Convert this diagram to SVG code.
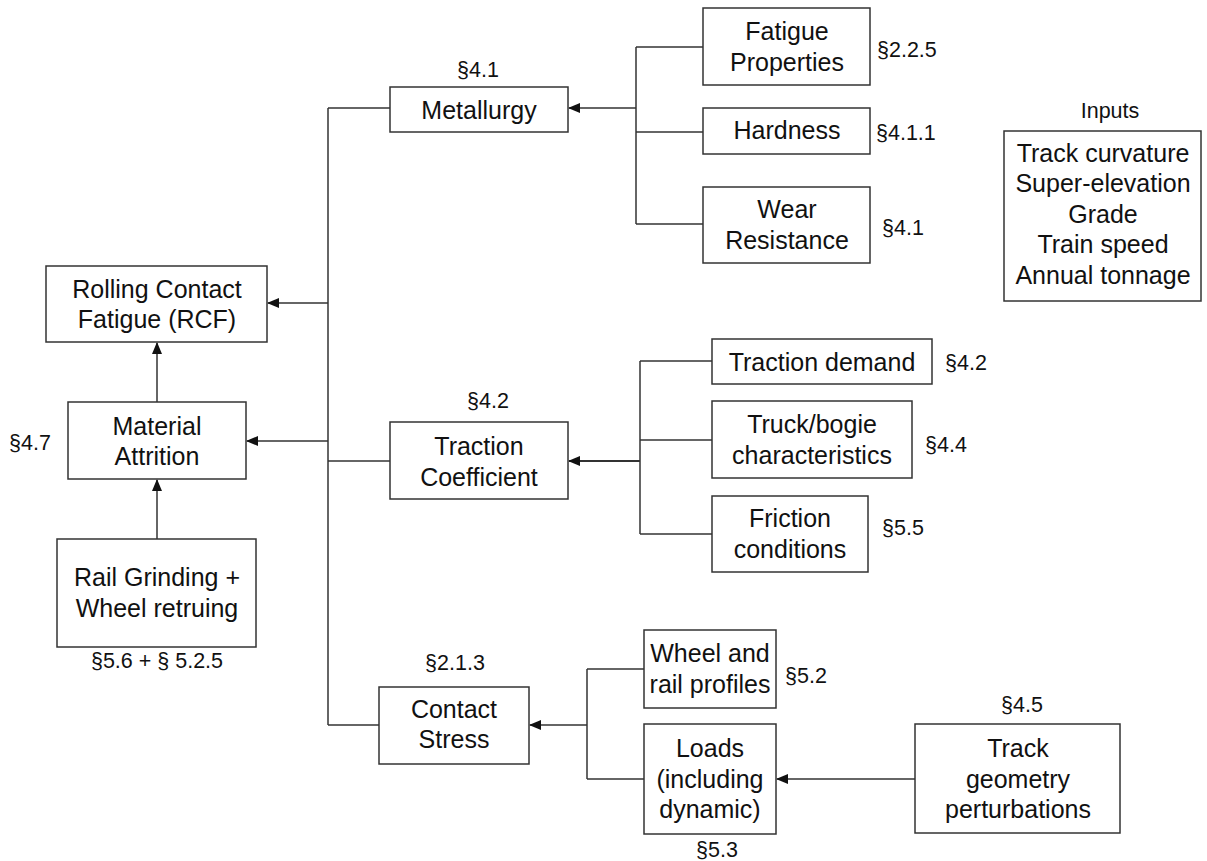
<svg xmlns="http://www.w3.org/2000/svg" width="1207" height="861" viewBox="0 0 1207 861">
<style>
.box{fill:#fff;stroke:#333;stroke-width:1.5}
.t{font-family:"Liberation Sans",Arial,sans-serif;font-size:25px;fill:#111;text-anchor:middle}
.s{font-family:"Liberation Sans",Arial,sans-serif;font-size:21.5px;fill:#111}
.c{text-anchor:middle}
.ln{fill:none;stroke:#333;stroke-width:1.5}
.ar{fill:none;stroke:#333;stroke-width:1.5;marker-end:url(#ah)}
</style>
<defs>
<marker id="ah" markerWidth="12" markerHeight="10" refX="11" refY="5" orient="auto" markerUnits="userSpaceOnUse">
<path d="M0,0 L12,5 L0,10 Z" fill="#111"/>
</marker>
</defs>
<rect width="1207" height="861" fill="#fff"/>
<g id="connectors">
<path class="ln" d="M328,108 V725"/>
<path class="ln" d="M328,108 H390"/>
<path class="ar" d="M328,303 H268"/>
<path class="ar" d="M328,441 H247"/>
<path class="ln" d="M328,461 H390"/>
<path class="ln" d="M328,725 H379"/>
<path class="ar" d="M157,402 V343"/>
<path class="ar" d="M157,539 V480"/>
<path class="ln" d="M636,47 V224"/>
<path class="ln" d="M636,47 H703"/>
<path class="ln" d="M636,132 H703"/>
<path class="ln" d="M636,224 H703"/>
<path class="ar" d="M636,108 H569"/>
<path class="ln" d="M640,361 V534"/>
<path class="ln" d="M640,361 H712"/>
<path class="ln" d="M640,440 H712"/>
<path class="ln" d="M640,534 H712"/>
<path class="ar" d="M640,461 H569" style="stroke-width:2"/>
<path class="ln" d="M587,669 V779"/>
<path class="ln" d="M587,669 H644"/>
<path class="ln" d="M587,779 H644"/>
<path class="ar" d="M587,725 H530"/>
<path class="ar" d="M915,779 H777"/>
</g>
<g id="rcf">
<rect class="box" x="46" y="266" width="221" height="76"/>
<text class="t" x="157" y="298">Rolling Contact</text>
<text class="t" x="157" y="328">Fatigue (RCF)</text>
</g>
<g id="attrition">
<rect class="box" x="68" y="402" width="178" height="77"/>
<text class="t" x="157" y="435">Material</text>
<text class="t" x="157" y="465">Attrition</text>
<text class="s" x="9" y="450">§4.7</text>
</g>
<g id="grinding">
<rect class="box" x="57" y="539" width="199" height="108"/>
<text class="t" x="157" y="586">Rail Grinding +</text>
<text class="t" x="157" y="617">Wheel retruing</text>
<text class="s c" x="157" y="668">§5.6 + § 5.2.5</text>
</g>
<g id="metallurgy">
<rect class="box" x="390" y="87" width="178" height="45"/>
<text class="t" x="479" y="119">Metallurgy</text>
<text class="s c" x="478" y="77">§4.1</text>
</g>
<g id="fatigue">
<rect class="box" x="703" y="8" width="167" height="77"/>
<text class="t" x="787" y="40">Fatigue</text>
<text class="t" x="787" y="71">Properties</text>
<text class="s" x="877" y="57">§2.2.5</text>
</g>
<g id="hardness">
<rect class="box" x="703" y="108" width="167" height="46"/>
<text class="t" x="787" y="139">Hardness</text>
<text class="s" x="876" y="140">§4.1.1</text>
</g>
<g id="wear">
<rect class="box" x="703" y="187" width="167" height="76"/>
<text class="t" x="787" y="218">Wear</text>
<text class="t" x="787" y="249">Resistance</text>
<text class="s" x="882" y="235">§4.1</text>
</g>
<g id="inputs">
<text class="s c" x="1110" y="118">Inputs</text>
<rect class="box" x="1004" y="131" width="197" height="170"/>
<text class="t" x="1103" y="162">Track curvature</text>
<text class="t" x="1103" y="192">Super-elevation</text>
<text class="t" x="1103" y="223">Grade</text>
<text class="t" x="1103" y="253">Train speed</text>
<text class="t" x="1103" y="284">Annual tonnage</text>
</g>
<g id="traction">
<rect class="box" x="390" y="422" width="178" height="77"/>
<text class="t" x="479" y="455">Traction</text>
<text class="t" x="479" y="486">Coefficient</text>
<text class="s c" x="488" y="408">§4.2</text>
</g>
<g id="demand">
<rect class="box" x="712" y="339" width="220" height="45"/>
<text class="t" x="822" y="371">Traction demand</text>
<text class="s" x="945" y="370">§4.2</text>
</g>
<g id="truck">
<rect class="box" x="712" y="401" width="200" height="77"/>
<text class="t" x="812" y="433">Truck/bogie</text>
<text class="t" x="812" y="464">characteristics</text>
<text class="s" x="925" y="452">§4.4</text>
</g>
<g id="friction">
<rect class="box" x="712" y="496" width="156" height="76"/>
<text class="t" x="790" y="527">Friction</text>
<text class="t" x="790" y="558">conditions</text>
<text class="s" x="882" y="535">§5.5</text>
</g>
<g id="contact">
<rect class="box" x="379" y="687" width="150" height="77"/>
<text class="t" x="454" y="718">Contact</text>
<text class="t" x="454" y="748">Stress</text>
<text class="s c" x="455" y="670">§2.1.3</text>
</g>
<g id="profiles">
<rect class="box" x="644" y="630" width="132" height="78"/>
<text class="t" x="710" y="662">Wheel and</text>
<text class="t" x="710" y="693">rail profiles</text>
<text class="s" x="785" y="683">§5.2</text>
</g>
<g id="loads">
<rect class="box" x="644" y="724" width="132" height="110"/>
<text class="t" x="710" y="757">Loads</text>
<text class="t" x="710" y="788">(including</text>
<text class="t" x="710" y="818">dynamic)</text>
<text class="s c" x="717" y="857">§5.3</text>
</g>
<g id="geometry">
<rect class="box" x="915" y="724" width="205" height="109"/>
<text class="t" x="1018" y="757">Track</text>
<text class="t" x="1018" y="788">geometry</text>
<text class="t" x="1018" y="818">perturbations</text>
<text class="s c" x="1022" y="712">§4.5</text>
</g>
</svg>
